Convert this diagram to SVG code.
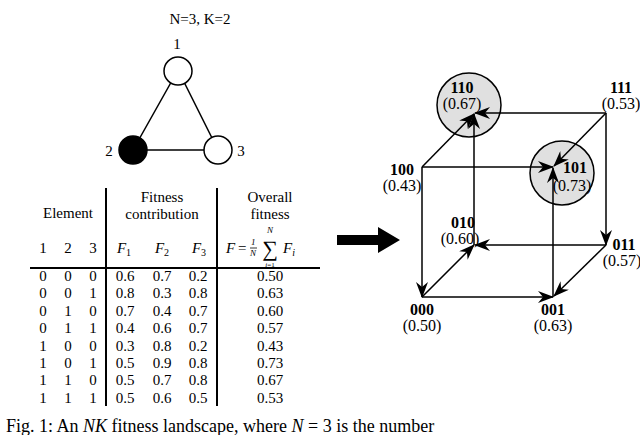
<svg xmlns="http://www.w3.org/2000/svg" width="640" height="435" viewBox="0 0 640 435" font-family="Liberation Serif, serif">
<defs>
<marker id="ah" viewBox="0 0 16 12" refX="15" refY="6" markerWidth="16" markerHeight="12" markerUnits="userSpaceOnUse" orient="auto">
<path d="M0,0 L16,6 L0,12 L5,6 Z" fill="#000"/>
</marker>
<style>
text{font-family:"Liberation Serif",serif;fill:#000}
.t{font-size:15px;text-anchor:middle}
.c{font-size:16px;text-anchor:middle}
.b{font-weight:bold}
.e{stroke:#000;stroke-width:1.5;fill:none}
.a{stroke:#000;stroke-width:1.5;fill:none;marker-end:url(#ah)}
.tl{stroke:#000;stroke-width:2}
</style>
</defs>
<rect width="640" height="435" fill="#fff"/>
<g id="graph">
<text x="200" y="24" class="t" font-size="16">N=3, K=2</text>
<line x1="178" y1="70" x2="133" y2="150" class="e"/>
<line x1="178" y1="70" x2="218" y2="150" class="e"/>
<line x1="133" y1="150" x2="218" y2="150" class="e"/>
<circle id="n1" cx="178" cy="71" r="14" fill="#fff" stroke="#000" stroke-width="1.5"/>
<circle id="n2" cx="133" cy="150" r="14" fill="#000" stroke="#000" stroke-width="1.5"/>
<circle id="n3" cx="218" cy="150" r="14" fill="#fff" stroke="#000" stroke-width="1.5"/>
<text x="177" y="49" class="t" font-size="17">1</text>
<text x="109" y="156" class="t" font-size="17">2</text>
<text x="241" y="156" class="t" font-size="17">3</text>
</g>
<g id="table">
<line x1="106" y1="188" x2="106" y2="406" class="tl"/>
<line x1="217" y1="188" x2="217" y2="406" class="tl"/>
<line x1="30" y1="268" x2="320" y2="268" class="tl"/>
<text x="68" y="218" class="t">Element</text>
<text x="162" y="202" class="t">Fitness</text>
<text x="162" y="219" class="t">contribution</text>
<text x="270" y="202" class="t">Overall</text>
<text x="270" y="219" class="t">fitness</text>
<text x="43" y="253" class="t">1</text><text x="68" y="253" class="t">2</text><text x="93" y="253" class="t">3</text>
<text x="124" y="253" class="t" font-style="italic">F<tspan font-size="10" dy="3" font-style="normal">1</tspan></text>
<text x="162" y="253" class="t" font-style="italic">F<tspan font-size="10" dy="3" font-style="normal">2</tspan></text>
<text x="199" y="253" class="t" font-style="italic">F<tspan font-size="10" dy="3" font-style="normal">3</tspan></text>
<text x="226" y="253" font-size="15" font-style="italic">F</text>
<text x="238" y="253" font-size="15">=</text>
<text x="251" y="245" font-size="9" font-style="italic">1</text>
<line x1="250" y1="248" x2="257" y2="248" stroke="#000" stroke-width="0.8"/>
<text x="250" y="256" font-size="9" font-style="italic">N</text>
<text x="270" y="256" font-size="22" text-anchor="middle">∑</text>
<text x="270" y="233" font-size="9" font-style="italic" text-anchor="middle">N</text>
<text x="270" y="267" font-size="7" text-anchor="middle"><tspan font-style="italic">i</tspan>=1</text>
<text x="283" y="253" font-size="15" font-style="italic">F<tspan font-size="10" dy="3">i</tspan></text>
<g class="t">
<text x="43" y="281">0</text><text x="68" y="281">0</text><text x="93" y="281">0</text><text x="125" y="281">0.6</text><text x="162" y="281">0.7</text><text x="198" y="281">0.2</text><text x="270" y="281">0.50</text>
<text x="43" y="298">0</text><text x="68" y="298">0</text><text x="93" y="298">1</text><text x="125" y="298">0.8</text><text x="162" y="298">0.3</text><text x="198" y="298">0.8</text><text x="270" y="298">0.63</text>
<text x="43" y="316">0</text><text x="68" y="316">1</text><text x="93" y="316">0</text><text x="125" y="316">0.7</text><text x="162" y="316">0.4</text><text x="198" y="316">0.7</text><text x="270" y="316">0.60</text>
<text x="43" y="333">0</text><text x="68" y="333">1</text><text x="93" y="333">1</text><text x="125" y="333">0.4</text><text x="162" y="333">0.6</text><text x="198" y="333">0.7</text><text x="270" y="333">0.57</text>
<text x="43" y="351">1</text><text x="68" y="351">0</text><text x="93" y="351">0</text><text x="125" y="351">0.3</text><text x="162" y="351">0.8</text><text x="198" y="351">0.2</text><text x="270" y="351">0.43</text>
<text x="43" y="368">1</text><text x="68" y="368">0</text><text x="93" y="368">1</text><text x="125" y="368">0.5</text><text x="162" y="368">0.9</text><text x="198" y="368">0.8</text><text x="270" y="368">0.73</text>
<text x="43" y="385">1</text><text x="68" y="385">1</text><text x="93" y="385">0</text><text x="125" y="385">0.5</text><text x="162" y="385">0.7</text><text x="198" y="385">0.8</text><text x="270" y="385">0.67</text>
<text x="43" y="403">1</text><text x="68" y="403">1</text><text x="93" y="403">1</text><text x="125" y="403">0.5</text><text x="162" y="403">0.6</text><text x="198" y="403">0.5</text><text x="270" y="403">0.53</text>
</g>
</g>
<g id="bigarrow">
<path d="M337,235 L378,235 L378,227 L400,240 L378,253 L378,245 L337,245 Z" fill="#000"/>
</g>
<g id="c110"><circle cx="469" cy="105" r="32" fill="#e0e0e0" stroke="#000" stroke-width="1.5"/></g>
<g id="c101"><circle cx="562" cy="173" r="32" fill="#e0e0e0" stroke="#000" stroke-width="1.5"/></g>
<g id="connectors">
<line x1="422" y1="167" x2="422" y2="297" class="a"/>
<line x1="422" y1="297" x2="474" y2="245" class="a"/>
<line x1="422" y1="297" x2="553" y2="297" class="a"/>
<line x1="422" y1="167" x2="474" y2="114" class="a"/>
<line x1="422" y1="167" x2="553" y2="167" class="a"/>
<line x1="474" y1="245" x2="474" y2="114" class="a"/>
<line x1="606" y1="113" x2="475" y2="113" class="a"/>
<line x1="606" y1="113" x2="554" y2="166" class="a"/>
<line x1="553" y1="297" x2="553" y2="168" class="a"/>
<line x1="606" y1="113" x2="606" y2="245" class="a"/>
<line x1="606" y1="245" x2="475" y2="245" class="a"/>
<line x1="606" y1="245" x2="554" y2="296" class="a"/>
</g>
<g id="labels" class="c">
<text x="462" y="93" class="b">110</text><text x="462" y="109">(0.67)</text>
<text x="621" y="93" class="b">111</text><text x="621" y="109">(0.53)</text>
<text x="402" y="175" class="b">100</text><text x="402" y="191">(0.43)</text>
<text x="575" y="173" class="b">101</text><text x="572" y="191">(0.73)</text>
<text x="463" y="228" class="b">010</text><text x="460" y="244">(0.60)</text>
<text x="624" y="250" class="b">011</text><text x="622" y="266">(0.57)</text>
<text x="422" y="315" class="b">000</text><text x="422" y="331">(0.50)</text>
<text x="553" y="315" class="b">001</text><text x="553" y="331">(0.63)</text>
</g>
<text x="6" y="432" font-size="18">Fig. 1: An <tspan font-style="italic">NK</tspan> fitness landscape, where <tspan font-style="italic">N</tspan> = 3 is the number</text>
</svg>
